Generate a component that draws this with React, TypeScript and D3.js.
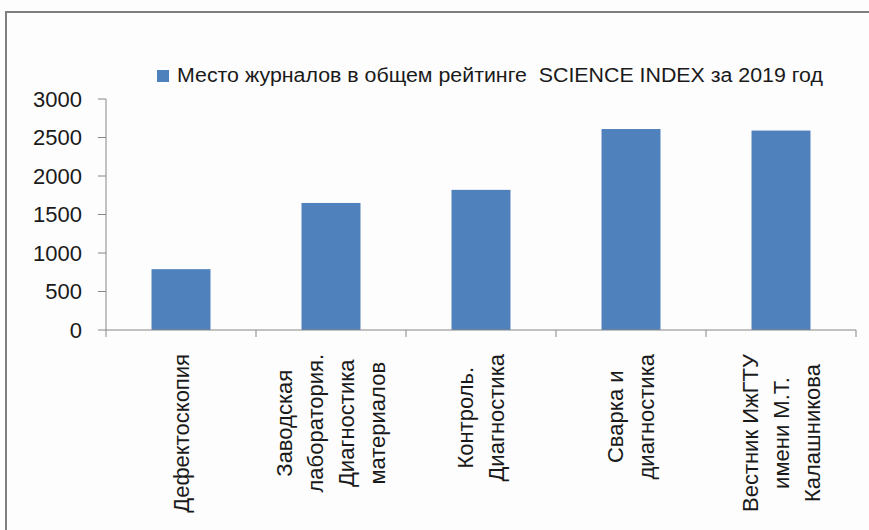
import { scaleBand, scaleLinear, select } from "d3";
import { useLayoutEffect, useRef } from "react";

const categories: string[][] = [
  ["Дефектоскопия"],
  ["Заводская", "лаборатория.", "Диагностика", "материалов"],
  ["Контроль.", "Диагностика"],
  ["Сварка и", "диагностика"],
  ["Вестник ИжГТУ", "имени М.Т.", "Калашникова"],
];
const values = [790, 1650, 1820, 2610, 2590];
const yTicks = [0, 500, 1000, 1500, 2000, 2500, 3000];
const seriesName = "Место журналов в общем рейтинге  SCIENCE INDEX за 2019 год";

const W = 869;
const H = 530;
const plot = { left: 106, right: 856, top: 99, bottom: 330 };
const font = "'Liberation Sans', Arial, sans-serif";
const barColor = "#4f81bd";
const axisColor = "#868686";
const labelTop = 354;
const lineGap = 31;

export default function App() {
  const keys = categories.map((c) => c.join(" "));

  const x = scaleBand<string>()
    .domain(keys)
    .range([plot.left, plot.right])
    .paddingInner(0.607)
    .paddingOuter(0.3035);
  const y = scaleLinear().domain([0, 3000]).range([plot.bottom, plot.top]);
  const step = x.step();
  const labelsRef = useRef<SVGGElement>(null);

  // центрируем строки подписи относительно самой длинной
  useLayoutEffect(() => {
    if (!labelsRef.current) return;
    select(labelsRef.current)
      .selectAll<SVGGElement, unknown>("g.cat")
      .each(function () {
        const texts = select(this).selectAll<SVGTextElement, unknown>("text");
        let maxLen = 0;
        texts.each(function () {
          maxLen = Math.max(maxLen, this.getComputedTextLength());
        });
        texts.attr("x", -(labelTop + maxLen / 2));
      });
  }, []);

  return (
    <svg
      width={W}
      height={H}
      style={{ position: "absolute", left: 0, top: 0, background: "#fdfdfd" }}
    >
      <rect x={6} y={12} width={W} height={H} fill="#fdfdfd" stroke="#7f7f7f" strokeWidth={2} />

      {/* legend */}
      <rect x={157} y={70} width={12} height={12} fill={barColor} />
      <text
        x={177}
        y={82}
        fontFamily={font}
        fontSize={20}
        fill="#1a1a1a"
        textLength={646}
        lengthAdjust="spacingAndGlyphs"
        style={{ whiteSpace: "pre" }}
      >
        {seriesName}
      </text>

      {/* y axis */}
      <line x1={plot.left} x2={plot.left} y1={plot.top} y2={plot.bottom} stroke={axisColor} />
      {yTicks.map((t) => (
        <g key={t}>
          <line x1={plot.left - 8} x2={plot.left} y1={y(t)} y2={y(t)} stroke={axisColor} />
          <text
            x={82}
            y={y(t)}
            dy="0.35em"
            textAnchor="end"
            fontFamily={font}
            fontSize={22}
            fill="#1a1a1a"
          >
            {t}
          </text>
        </g>
      ))}

      {/* bars */}
      {keys.map((k, i) => (
        <rect
          key={k}
          x={x(k)}
          y={y(values[i])}
          width={x.bandwidth()}
          height={plot.bottom - y(values[i])}
          fill={barColor}
        />
      ))}

      {/* x axis */}
      <line x1={plot.left} x2={plot.right} y1={plot.bottom} y2={plot.bottom} stroke={axisColor} />
      {[...keys.map((k) => (x(k) ?? 0) - (step - x.bandwidth()) / 2), plot.right].map((tx, i) => (
        <line key={i} x1={tx} x2={tx} y1={plot.bottom} y2={plot.bottom + 7} stroke={axisColor} />
      ))}

      <g ref={labelsRef}>
        {categories.map((lines, i) => {
          const cx = (x(keys[i]) ?? 0) + x.bandwidth() / 2;
          return (
            <g key={keys[i]} className="cat" transform={`translate(${cx}, 0) rotate(-90)`}>
              {lines.map((ln, j) => (
                <text
                  key={j}
                  x={-425}
                  y={(j - (lines.length - 1) / 2) * lineGap}
                  dy="0.35em"
                  textAnchor="middle"
                  fontFamily={font}
                  fontSize={22}
                  fill="#1a1a1a"
                >
                  {ln}
                </text>
              ))}
            </g>
          );
        })}
      </g>
    </svg>
  );
}
